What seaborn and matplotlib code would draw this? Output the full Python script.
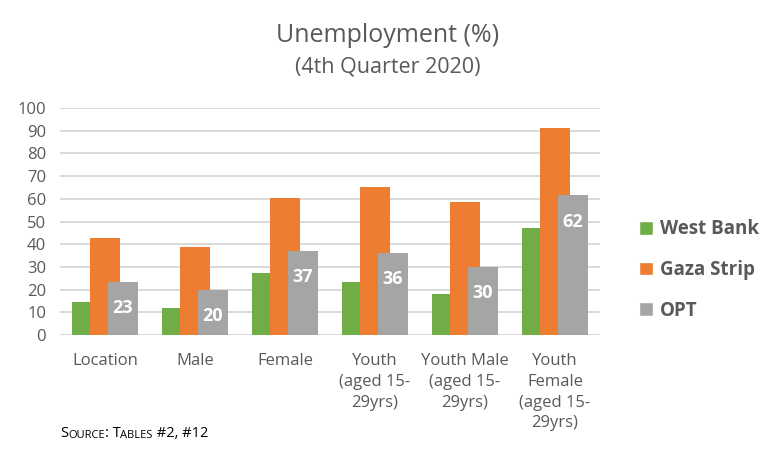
import matplotlib
matplotlib.use("Agg")
import matplotlib.pyplot as plt
import seaborn as sns
import pandas as pd

# ── Data ─────────────────────────────────────────────────────────────────────
categories = ["Location", "Male", "Female", "Youth\n(aged 15-\n29yrs)",
              "Youth Male\n(aged 15-\n29yrs)", "Youth\nFemale\n(aged 15-\n29yrs)"]
regions = ["West Bank", "Gaza Strip", "OPT"]
west_bank = [14.7, 12.0, 27.4, 23.5, 18.2, 47.2]
gaza_strip = [42.8, 38.9, 60.4, 65.2, 58.7, 91.2]
opt = [23.5, 19.9, 37.1, 36.2, 30.1, 61.5]
opt_labels = ["23", "20", "37", "36", "30", "62"]

colors = ["#70AD47", "#ED7D31", "#A5A5A5"]
TXT = "#595959"
FONT = "Open Sans"

df = pd.DataFrame({
    "category": categories * 3,
    "region": [r for r in regions for _ in categories],
    "value": west_bank + gaza_strip + opt,
})

sns.set_style("white")
plt.rcParams["font.family"] = [FONT, "DejaVu Sans"]

fig = plt.figure(figsize=(7.75, 4.53), dpi=100)
ax = fig.add_axes([60 / 775, 1 - 335 / 453, 540 / 775, 227 / 453])

sns.barplot(data=df, x="category", y="value", hue="region", order=categories,
            hue_order=regions, palette=colors, width=0.6, gap=0,
            saturation=1, ax=ax, legend=True)

# Excel style: wide bars overlapping 40%
bw = 1 / 3
for p in ax.patches:
    if p.get_height() == 0 and p.get_width() == 0:
        continue
    cx = p.get_x() + p.get_width() / 2
    p.set_width(bw)
    p.set_x(cx - bw / 2)
    p.set_linewidth(0)

# data labels on OPT bars
opt_bars = ax.containers[2]
for bar, lab in zip(opt_bars, opt_labels):
    ax.annotate(lab, (bar.get_x() + bar.get_width() / 2, bar.get_height()),
                xytext=(0, -19), textcoords="offset points",
                ha="center", va="center", color="white",
                fontsize=13, fontweight="bold")

ax.set_xlim(-0.5, 5.5)
ax.set_ylim(0, 100)
ax.set_yticks(range(0, 101, 10))
ax.yaxis.grid(True, color="#D9D9D9", linewidth=1.4)
ax.set_axisbelow(True)
for s in ax.spines.values():
    s.set_visible(False)
ax.tick_params(axis="both", length=0, colors=TXT, labelsize=12)
ax.tick_params(axis="y", pad=10)
ax.tick_params(axis="x", pad=13)
ax.set_xlabel("")
ax.set_ylabel("")
for t in ax.get_xticklabels():
    t.set_linespacing(1.4)
    t.set_verticalalignment("top")

# legend
handles, labels = ax.get_legend_handles_labels()
ax.legend(handles, labels, loc="center left",
          bbox_to_anchor=(622 / 775, 1 - 270 / 453),
          bbox_transform=fig.transFigure, frameon=False, handlelength=0.75,
          handleheight=0.75, handletextpad=0.35, labelspacing=1.1,
          prop={"size": 13.5, "weight": "bold"}, labelcolor=TXT)

# titles
fig.text(388 / 775, 1 - 36 / 453, "Unemployment (%)", ha="center", va="center",
         fontsize=18, color=TXT)
fig.text(388 / 775, 1 - 67 / 453, "(4th Quarter 2020)", ha="center", va="center",
         fontsize=15.5, color=TXT)

# source note in small caps
parts = [("S", 10.5), ("OURCE", 8), (": T", 10.5), ("ABLES", 8), (" #2, #12", 10.5)]
prev = fig.text(60 / 775, 1 - 437 / 453, parts[0][0], fontsize=parts[0][1],
                color="black", ha="left", va="baseline")
for txt, size in parts[1:]:
    prev = ax.annotate(txt, xy=(1, 0), xycoords=prev, ha="left", va="bottom",
                       fontsize=size, color="black")

fig.savefig("out.png", dpi=100)
